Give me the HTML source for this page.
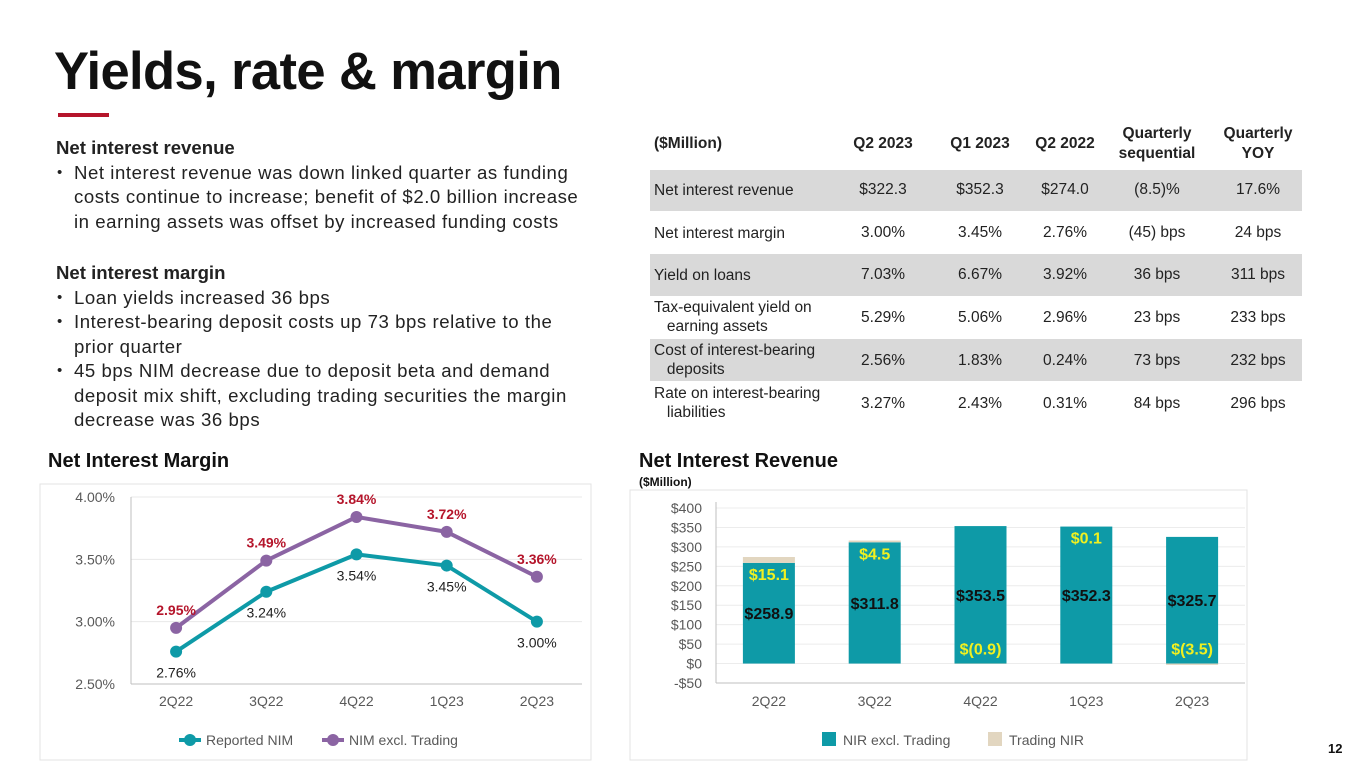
<!DOCTYPE html>
<html><head><meta charset="utf-8"><style>
body{margin:0;width:1365px;height:769px;background:#fff;position:relative;overflow:hidden;font-family:"Liberation Sans",sans-serif;color:#222}
.a{position:absolute}
.t{font-size:18.6px;line-height:24.5px;color:#222;white-space:nowrap;letter-spacing:0.55px}
.t .bl{padding-left:18px;position:relative}
.t .bl:before{content:"•";position:absolute;left:1px;font-size:15px}
.b{font-weight:bold}
.row{position:absolute;left:650px;width:652px;font-size:15.5px;color:#222}
.row span{position:absolute;top:0;transform:translateX(-50%);text-align:center;white-space:nowrap}
.row .l{transform:none;left:4px;text-align:left;line-height:19px}
</style></head><body>
<div class="a b" style="left:54px;top:41px;font-size:52.5px;letter-spacing:-0.6px;color:#111">Yields, rate &amp; margin</div>
<div class="a" style="left:58px;top:113px;width:51px;height:4px;background:#b5152b"></div>

<div class="a t" style="left:56px;top:136px;width:560px">
<div class="b" style="letter-spacing:0">Net interest revenue</div>
<div class="bl">Net interest revenue was down linked quarter as funding<br>costs continue to increase; benefit of $2.0 billion increase<br>in earning assets was offset by increased funding costs</div>
<div style="height:27px"></div>
<div class="b" style="letter-spacing:0">Net interest margin</div>
<div class="bl">Loan yields increased 36 bps</div>
<div class="bl">Interest-bearing deposit costs up 73 bps relative to the<br>prior quarter</div>
<div class="bl">45 bps NIM decrease due to deposit beta and demand<br>deposit mix shift, excluding trading securities the margin<br>decrease was 36 bps</div>
</div>

<div>
<div class="a" style="left:650px;top:170px;width:652px;height:41px;background:#d9d9d9"></div>
<div class="a" style="left:650px;top:254px;width:652px;height:42px;background:#d9d9d9"></div>
<div class="a" style="left:650px;top:339px;width:652px;height:42px;background:#d9d9d9"></div>
<div class="row b" style="top:124px;line-height:20px"><span class="l" style="top:10px">($Million)</span><span style="left:233px;top:10px">Q2 2023</span><span style="left:330px;top:10px">Q1 2023</span><span style="left:415px;top:10px">Q2 2022</span><span style="left:507px">Quarterly<br>sequential</span><span style="left:608px">Quarterly<br>YOY</span></div>
<div class="row" style="top:181px"><span class="l">Net interest revenue</span><span style="left:233px">$322.3</span><span style="left:330px">$352.3</span><span style="left:415px">$274.0</span><span style="left:507px">(8.5)%</span><span style="left:608px">17.6%</span></div>
<div class="row" style="top:224px"><span class="l">Net interest margin</span><span style="left:233px">3.00%</span><span style="left:330px">3.45%</span><span style="left:415px">2.76%</span><span style="left:507px">(45) bps</span><span style="left:608px">24 bps</span></div>
<div class="row" style="top:266px"><span class="l">Yield on loans</span><span style="left:233px">7.03%</span><span style="left:330px">6.67%</span><span style="left:415px">3.92%</span><span style="left:507px">36 bps</span><span style="left:608px">311 bps</span></div>
<div class="row" style="top:298px"><span class="l">Tax-equivalent yield on<br>&nbsp;&nbsp;&nbsp;earning assets</span><span style="left:233px;top:11px">5.29%</span><span style="left:330px;top:11px">5.06%</span><span style="left:415px;top:11px">2.96%</span><span style="left:507px;top:11px">23 bps</span><span style="left:608px;top:11px">233 bps</span></div>
<div class="row" style="top:341px"><span class="l">Cost of interest-bearing<br>&nbsp;&nbsp;&nbsp;deposits</span><span style="left:233px;top:11px">2.56%</span><span style="left:330px;top:11px">1.83%</span><span style="left:415px;top:11px">0.24%</span><span style="left:507px;top:11px">73 bps</span><span style="left:608px;top:11px">232 bps</span></div>
<div class="row" style="top:384px"><span class="l">Rate on interest-bearing<br>&nbsp;&nbsp;&nbsp;liabilities</span><span style="left:233px;top:11px">3.27%</span><span style="left:330px;top:11px">2.43%</span><span style="left:415px;top:11px">0.31%</span><span style="left:507px;top:11px">84 bps</span><span style="left:608px;top:11px">296 bps</span></div>
</div>

<div class="a b" style="left:48px;top:450px;font-size:20px;color:#111">Net Interest Margin</div>
<div class="a b" style="left:639px;top:450px;font-size:20px;color:#111">Net Interest Revenue</div>
<div class="a b" style="left:639px;top:475px;font-size:12px;color:#111">($Million)</div>
<div class="a b" style="left:1328px;top:741px;font-size:13px;color:#111">12</div>

<svg class="a" id="nim" style="left:0;top:0" width="640" height="769"></svg>
<svg class="a" id="nir" style="left:0;top:0" width="1365" height="769"></svg>

<script>
const nimCats = ["2Q22","3Q22","4Q22","1Q23","2Q23"];
const nimReported = [2.76,3.24,3.54,3.45,3.00];
const nimExTrading = [2.95,3.49,3.84,3.72,3.36];
const nimTicks = [2.5,3.0,3.5,4.0];
const nimTickLabels = ["2.50%","3.00%","3.50%","4.00%"];

const nirCats = ["2Q22","3Q22","4Q22","1Q23","2Q23"];
const nirExTrading = [258.9,311.8,353.5,352.3,325.7];
const nirTrading = [15.1,4.5,-0.9,0.1,-3.5];
const nirExLabels = ["$258.9","$311.8","$353.5","$352.3","$325.7"];
const nirTradingLabels = ["$15.1","$4.5","$(0.9)","$0.1","$(3.5)"];
const nirTicks = [-50,0,50,100,150,200,250,300,350,400];
const nirTickLabels = ["-$50","$0","$50","$100","$150","$200","$250","$300","$350","$400"];

const NS="http://www.w3.org/2000/svg";
function mk(p,tag,attrs,txt){const e=document.createElementNS(NS,tag);for(const k in attrs)e.setAttribute(k,attrs[k]);if(txt!==undefined)e.textContent=txt;p.appendChild(e);return e;}

(function(){
const s=document.getElementById('nim');
const x0=131,x1=582,yTop=497,yBot=684;
const y=v=>yBot-(v-2.5)/(4.0-2.5)*(yBot-yTop);
const step=(x1-x0)/nimCats.length;
const x=i=>x0+step*(i+0.5);
const box=mk(s,'rect',{x:40,y:484,width:551,height:276,fill:'none',stroke:'#e3e3e3'});


nimTicks.forEach((t,i)=>{
 if(i>0){const g=mk(s,'line',{x1:x0,x2:x1,y1:y(t),y2:y(t),stroke:'#e8e8e8'});}
 const l=mk(s,'text',{x:x0-16,y:y(t)+5,'text-anchor':'end','font-size':14,fill:'#595959'},nimTickLabels[i]);
 
});
mk(s,'line',{x1:x0,x2:x0,y1:yTop,y2:yBot,stroke:'#bfbfbf'});
const ax=mk(s,'line',{x1:x0,x2:x1,y1:yBot,y2:yBot,stroke:'#bfbfbf'});

nimCats.forEach((c,i)=>{const l=mk(s,'text',{x:x(i),y:706,'text-anchor':'middle','font-size':14,fill:'#595959'},c);});
function series(vals,color,name,lblColor,bold,above){
 const pts=vals.map((v,i)=>x(i)+','+y(v)).join(' ');
 const pl=mk(s,'polyline',{points:pts,fill:'none',stroke:color,'stroke-width':4,'stroke-linejoin':'round'});
 
 vals.forEach((v,i)=>{
  const c=mk(s,'circle',{cx:x(i),cy:y(v),r:6,fill:color});
  
  const t=mk(s,'text',{x:x(i),y:above?y(v)-13:y(v)+26,'text-anchor':'middle','font-size':14,fill:lblColor,'font-weight':bold?'bold':'normal'},v.toFixed(2)+'%');
  
 });
}
series(nimExTrading,'#8b64a3','nim-excl-trading','#b5152b',true,true);
series(nimReported,'#0e9aa7','reported-nim','#222',false,false);
const lg=[['#0e9aa7','Reported NIM',183],['#8b64a3','NIM excl. Trading',326]];
lg.forEach(([c,t,lx])=>{
 const g=mk(s,'g',{});
 mk(g,'line',{x1:lx-4,x2:lx+18,y1:740,y2:740,stroke:c,'stroke-width':4});
 mk(g,'circle',{cx:lx+7,cy:740,r:6,fill:c});
 mk(g,'text',{x:lx+23,y:745,'font-size':14,fill:'#595959'},t);
});
})();

(function(){
const s=document.getElementById('nir');
const x0=716,x1=1245,yTop=508,yBot=683;
const y=v=>yBot-(v+50)/450*(yBot-yTop);
const step=(x1-x0)/nirCats.length;
const x=i=>x0+step*(i+0.5);
const bw=52;
const box=mk(s,'rect',{x:630,y:490,width:617,height:270,fill:'none',stroke:'#e3e3e3'});

nirTicks.forEach((t,i)=>{
 const g=mk(s,'line',{x1:x0,x2:x1,y1:y(t),y2:y(t),stroke:'#ececec'});
 const l=mk(s,'text',{x:x0-14,y:y(t)+5,'text-anchor':'end','font-size':14,fill:'#595959'},nirTickLabels[i]);
 
});
mk(s,'line',{x1:x0,x2:x0,y1:yTop-6,y2:yBot,stroke:'#bfbfbf'});
const ax=mk(s,'line',{x1:x0,x2:x1,y1:yBot,y2:yBot,stroke:'#bfbfbf'});

nirCats.forEach((c,i)=>{const l=mk(s,'text',{x:x(i),y:706,'text-anchor':'middle','font-size':14,fill:'#595959'},c);});
nirCats.forEach((c,i)=>{
 const v=nirExTrading[i],tr=nirTrading[i];
 const b=mk(s,'rect',{x:x(i)-bw/2,y:y(v),width:bw,height:y(0)-y(v),fill:'#0e9aa7'});
 
 const tb=mk(s,'rect',{x:x(i)-bw/2,y:tr>0?y(v+tr):y(0),width:bw,height:tr>0?y(v)-y(v+tr):y(tr)-y(0),fill:'#e2d6c0'});
 
 const l=mk(s,'text',{x:x(i),y:y(v/2)+6,'text-anchor':'middle','font-size':16,'font-weight':'bold',fill:'#111'},nirExLabels[i]);
 
 const ty=tr>=0?y(v)+17:y(0)-9;
 const l2=mk(s,'text',{x:x(i),y:ty,'text-anchor':'middle','font-size':16,'font-weight':'bold',fill:'#f0f020'},nirTradingLabels[i]);
 
});
const lg=[['#0e9aa7','NIR excl. Trading',822],['#e2d6c0','Trading NIR',988]];
lg.forEach(([c,t,lx])=>{
 const g=mk(s,'g',{});
 mk(g,'rect',{x:lx,y:732,width:14,height:14,fill:c});
 mk(g,'text',{x:lx+21,y:745,'font-size':14,fill:'#595959'},t);
});
})();
</script>
</body></html>
